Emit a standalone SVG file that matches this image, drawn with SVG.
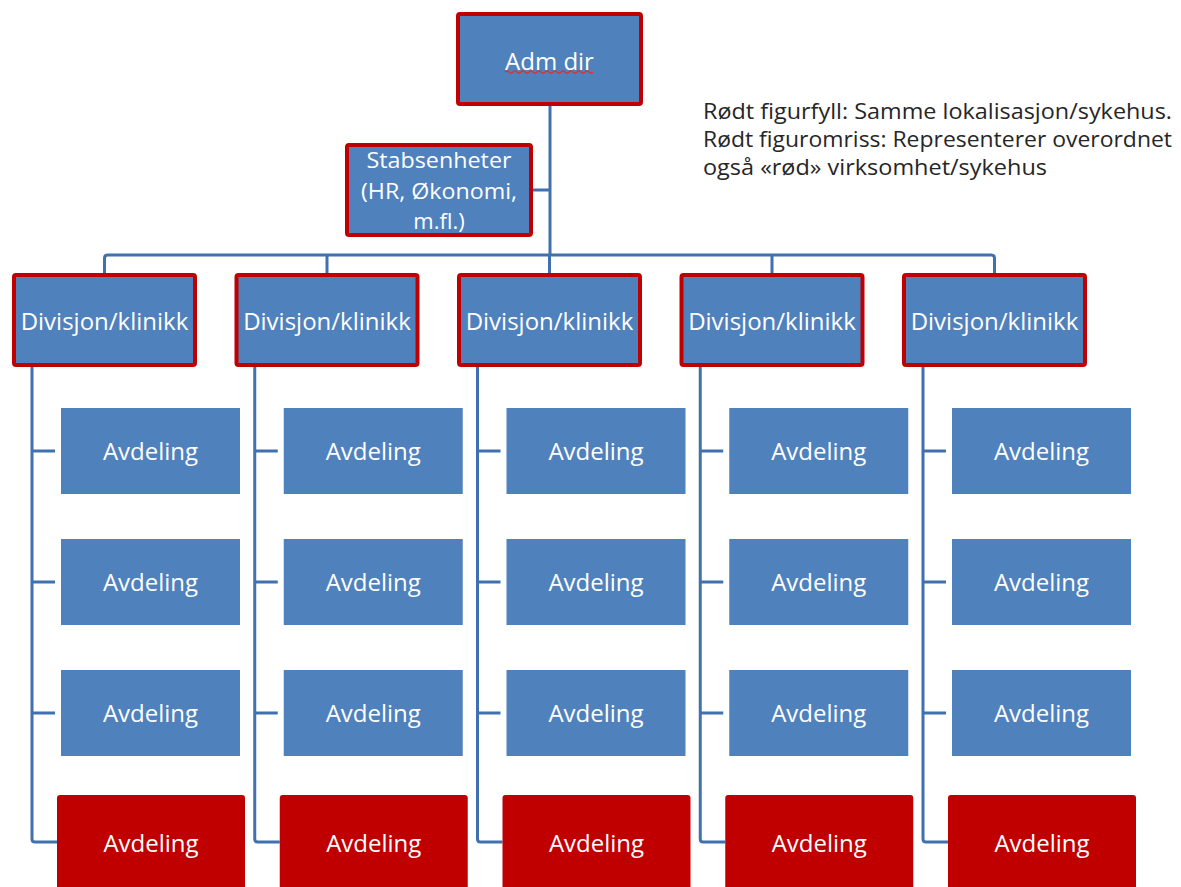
<svg xmlns="http://www.w3.org/2000/svg" width="1181" height="887" viewBox="0 0 1181 887">
<style>
.bg{fill:#ffffff}
.red-outline{fill:#4F81BD;stroke:#C00000;stroke-width:4}
.blue{fill:#4F81BD}
.redfill{fill:#C00000}
.lbl{font-family:"Open Sans","Liberation Sans",sans-serif;font-size:24px;fill:#ffffff;text-anchor:middle;dominant-baseline:central}
.small{font-size:22px}
.legend{font-family:"Open Sans","Liberation Sans",sans-serif;font-size:22px;fill:#262626;dominant-baseline:central}
.conn{fill:none;stroke:#4170AE;stroke-width:3;stroke-linejoin:round}
</style>
<rect class="bg" x="0" y="0" width="1181" height="887"/>
<g id="connectors">
<path class="conn" d="M550,106 V255"/>
<path class="conn" d="M533,190 H550"/>
<path class="conn" d="M104.5,273 V258 Q104.5,255 107.5,255 H991.5 Q994.5,255 994.5,258 V273"/>
<path class="conn" d="M327,255 V273 M549.5,255 V273 M772,255 V273"/>
<path class="conn" d="M55,451 H32 M55,582 H32 M55,713 H32 M32,367 V839 Q32,842 35,842 H57"/>
<path class="conn" d="M277.75,451 H254.75 M277.75,582 H254.75 M277.75,713 H254.75 M254.75,367 V839 Q254.75,842 257.75,842 H279.75"/>
<path class="conn" d="M500.5,451 H477.5 M500.5,582 H477.5 M500.5,713 H477.5 M477.5,367 V839 Q477.5,842 480.5,842 H502.5"/>
<path class="conn" d="M723.25,451 H700.25 M723.25,582 H700.25 M723.25,713 H700.25 M700.25,367 V839 Q700.25,842 703.25,842 H725.25"/>
<path class="conn" d="M946,451 H923 M946,582 H923 M946,713 H923 M923,367 V839 Q923,842 926,842 H948"/>
</g>
<g id="adm-dir">
<rect class="red-outline" x="458" y="14" width="183" height="90" rx="2"/>
<text class="lbl" x="549.5" y="60">Adm dir</text>
<path d="M505,72 q2,-2 4,0 t4,0 t4,0 t4,0 t4,0 t4,0 t4,0 t4,0 t4,0 t4,0 t4,0 t4,0 t4,0 t4,0 t4,0 t4,0 t4,0 t4,0 t4,0 t4,0 t4,0 t4,0" fill="none" stroke="#E03030" stroke-width="1.2"/>
</g>
<g id="stabsenheter">
<rect class="red-outline" x="347" y="145" width="184" height="90" rx="2"/>
<text class="lbl small" x="439" y="159" textLength="145" lengthAdjust="spacingAndGlyphs">Stabsenheter</text>
<text class="lbl small" x="439" y="190" textLength="156" lengthAdjust="spacingAndGlyphs">(HR, Økonomi,</text>
<text class="lbl small" x="439" y="220">m.fl.)</text>
</g>
<g id="legend">
<text class="legend" x="703" y="110" textLength="469" lengthAdjust="spacingAndGlyphs">Rødt figurfyll: Samme lokalisasjon/sykehus.</text>
<text class="legend" x="703" y="138" textLength="469" lengthAdjust="spacingAndGlyphs">Rødt figuromriss: Representerer overordnet</text>
<text class="legend" x="703" y="166" textLength="344" lengthAdjust="spacingAndGlyphs">også «rød» virksomhet/sykehus</text>
</g>
<g id="div1"><rect class="red-outline" x="14" y="275" width="181" height="90" rx="2"/><text class="lbl" x="104.5" y="320">Divisjon/klinikk</text></g>
<g id="div2"><rect class="red-outline" x="236.5" y="275" width="181" height="90" rx="2"/><text class="lbl" x="327" y="320">Divisjon/klinikk</text></g>
<g id="div3"><rect class="red-outline" x="459" y="275" width="181" height="90" rx="2"/><text class="lbl" x="549.5" y="320">Divisjon/klinikk</text></g>
<g id="div4"><rect class="red-outline" x="681.5" y="275" width="181" height="90" rx="2"/><text class="lbl" x="772" y="320">Divisjon/klinikk</text></g>
<g id="div5"><rect class="red-outline" x="904" y="275" width="181" height="90" rx="2"/><text class="lbl" x="994.5" y="320">Divisjon/klinikk</text></g>

<g id="c1a1"><rect class="blue" x="61" y="408" width="179" height="86"/><text class="lbl" x="150.5" y="450">Avdeling</text></g>
<g id="c1a2"><rect class="blue" x="61" y="539" width="179" height="86"/><text class="lbl" x="150.5" y="581">Avdeling</text></g>
<g id="c1a3"><rect class="blue" x="61" y="670" width="179" height="86"/><text class="lbl" x="150.5" y="712">Avdeling</text></g>
<g id="c1a4"><rect class="redfill" x="57" y="795" width="188" height="96" rx="3"/><text class="lbl" x="151" y="842">Avdeling</text></g>

<g id="c2a1"><rect class="blue" x="283.75" y="408" width="179" height="86"/><text class="lbl" x="373.25" y="450">Avdeling</text></g>
<g id="c2a2"><rect class="blue" x="283.75" y="539" width="179" height="86"/><text class="lbl" x="373.25" y="581">Avdeling</text></g>
<g id="c2a3"><rect class="blue" x="283.75" y="670" width="179" height="86"/><text class="lbl" x="373.25" y="712">Avdeling</text></g>
<g id="c2a4"><rect class="redfill" x="279.75" y="795" width="188" height="96" rx="3"/><text class="lbl" x="373.75" y="842">Avdeling</text></g>

<g id="c3a1"><rect class="blue" x="506.5" y="408" width="179" height="86"/><text class="lbl" x="596" y="450">Avdeling</text></g>
<g id="c3a2"><rect class="blue" x="506.5" y="539" width="179" height="86"/><text class="lbl" x="596" y="581">Avdeling</text></g>
<g id="c3a3"><rect class="blue" x="506.5" y="670" width="179" height="86"/><text class="lbl" x="596" y="712">Avdeling</text></g>
<g id="c3a4"><rect class="redfill" x="502.5" y="795" width="188" height="96" rx="3"/><text class="lbl" x="596.5" y="842">Avdeling</text></g>

<g id="c4a1"><rect class="blue" x="729.25" y="408" width="179" height="86"/><text class="lbl" x="818.75" y="450">Avdeling</text></g>
<g id="c4a2"><rect class="blue" x="729.25" y="539" width="179" height="86"/><text class="lbl" x="818.75" y="581">Avdeling</text></g>
<g id="c4a3"><rect class="blue" x="729.25" y="670" width="179" height="86"/><text class="lbl" x="818.75" y="712">Avdeling</text></g>
<g id="c4a4"><rect class="redfill" x="725.25" y="795" width="188" height="96" rx="3"/><text class="lbl" x="819.25" y="842">Avdeling</text></g>

<g id="c5a1"><rect class="blue" x="952" y="408" width="179" height="86"/><text class="lbl" x="1041.5" y="450">Avdeling</text></g>
<g id="c5a2"><rect class="blue" x="952" y="539" width="179" height="86"/><text class="lbl" x="1041.5" y="581">Avdeling</text></g>
<g id="c5a3"><rect class="blue" x="952" y="670" width="179" height="86"/><text class="lbl" x="1041.5" y="712">Avdeling</text></g>
<g id="c5a4"><rect class="redfill" x="948" y="795" width="188" height="96" rx="3"/><text class="lbl" x="1042" y="842">Avdeling</text></g>
</svg>
